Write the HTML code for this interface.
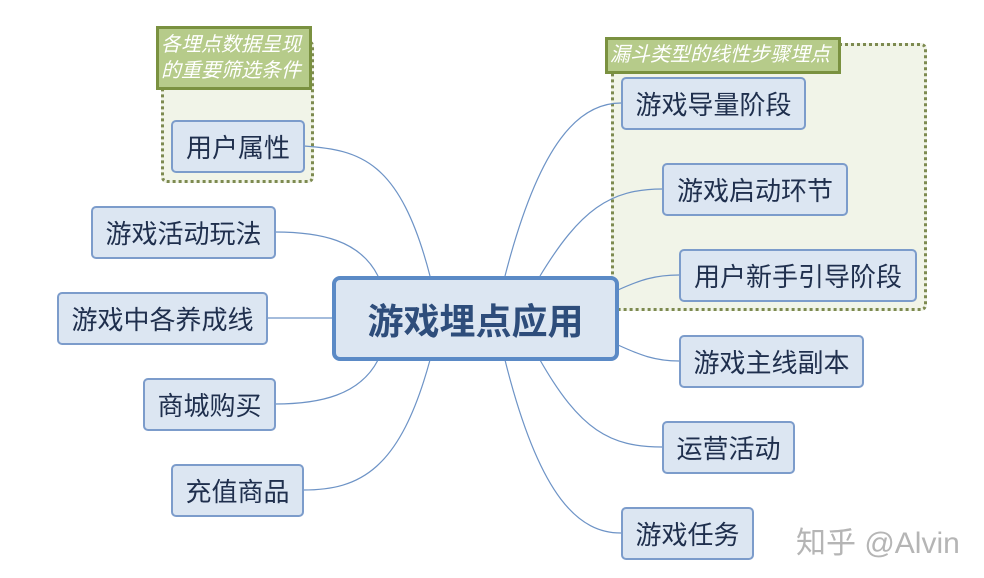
<!DOCTYPE html>
<html><head><meta charset="utf-8"><style>
body{margin:0;width:984px;height:578px;background:#fff;position:relative;overflow:hidden;font-family:"Liberation Sans","Noto Sans CJK SC",sans-serif}
.grp{position:absolute;border:3px dotted #7d8a50;background:#f1f4e8;border-radius:6px;box-sizing:border-box}
.lab{position:absolute;background:#b6cb8a;border:3px solid #7a9140;color:#fff;font-style:italic;font-size:20px;line-height:26px;box-sizing:border-box;padding:3px 2px;white-space:nowrap;overflow:hidden}
.n{position:absolute;background:#dce6f2;border:2px solid #7c9ccb;border-radius:5px;box-sizing:border-box;color:#1f2f4d;font-size:26px;display:flex;align-items:center;justify-content:center;white-space:nowrap}
svg{position:absolute;left:0;top:0}
</style></head><body>
<div class="grp" style="left:161px;top:40px;width:153px;height:143px"></div>
<div class="grp" style="left:611px;top:43px;width:316px;height:268px"></div>
<svg width="984" height="578"><g fill="none" stroke="#6d93c6" stroke-width="1.2">
<path d="M430 276 C400 160,360 150,304 146"/>
<path d="M378 276 C360 240,320 232,275 232"/>
<path d="M332 318 L267 318"/>
<path d="M378 360 C360 395,320 404,275 404"/>
<path d="M430 360 C400 470,360 490,303 490"/>
<path d="M505 276 C540 140,580 103,621 103"/>
<path d="M540 276 C580 210,610 189,662 189"/>
<path d="M618 290 C640 280,655 275,679 275"/>
<path d="M618 345 C640 355,655 361,679 361"/>
<path d="M540 360 C580 430,610 447,662 447"/>
<path d="M505 360 C540 500,580 533,621 533"/>
</g></svg>
<div class="lab" style="left:156px;top:26px;width:156px;height:64px">各埋点数据呈现<br>的重要筛选条件</div>
<div class="lab" style="left:605px;top:37px;width:236px;height:37px;padding-top:2px">漏斗类型的线性步骤埋点</div>
<div class="n" style="left:332px;top:276px;width:287px;height:85px;border:4px solid #5b8ac6;border-radius:8px;font-size:36px;font-weight:bold;color:#2e4d7b">游戏埋点应用</div>
<div class="n" style="left:171px;top:120px;width:134px;height:53px">用户属性</div>
<div class="n" style="left:91px;top:206px;width:185px;height:53px">游戏活动玩法</div>
<div class="n" style="left:57px;top:292px;width:211px;height:53px">游戏中各养成线</div>
<div class="n" style="left:143px;top:378px;width:133px;height:53px">商城购买</div>
<div class="n" style="left:171px;top:464px;width:133px;height:53px">充值商品</div>
<div class="n" style="left:621px;top:77px;width:185px;height:53px">游戏导量阶段</div>
<div class="n" style="left:662px;top:163px;width:186px;height:53px">游戏启动环节</div>
<div class="n" style="left:679px;top:249px;width:238px;height:53px">用户新手引导阶段</div>
<div class="n" style="left:679px;top:335px;width:185px;height:53px">游戏主线副本</div>
<div class="n" style="left:662px;top:421px;width:133px;height:53px">运营活动</div>
<div class="n" style="left:621px;top:507px;width:133px;height:53px">游戏任务</div>
<div style="position:absolute;left:796px;top:518px;font-size:30px;color:#b5b5b5;white-space:nowrap">知乎 @Alvin</div>
</body></html>
